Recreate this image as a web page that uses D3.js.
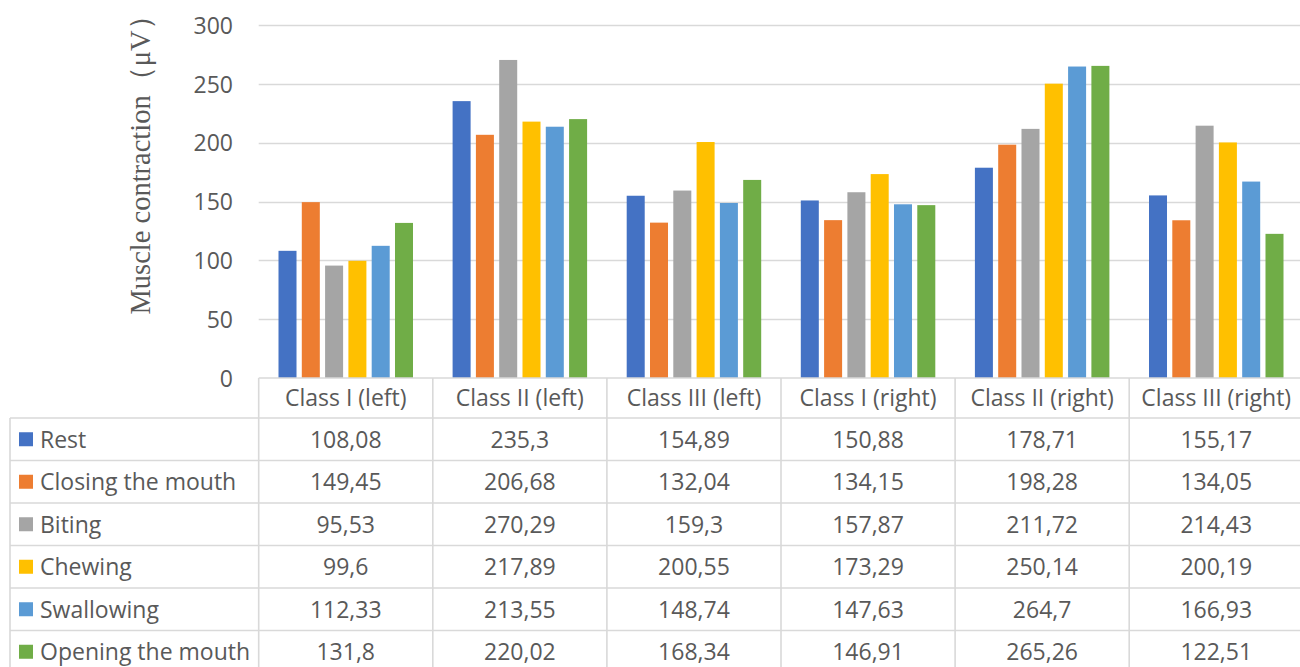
<!DOCTYPE html>
<html>
<head>
<meta charset="utf-8">
<script src="https://cdn.jsdelivr.net/npm/d3@7/dist/d3.min.js"></script>
<style>
  html, body { margin: 0; padding: 0; background: #fff; }
  svg { display: block; }
  text { font-family: "Open Sans", Lato, sans-serif; fill: #595959; }
</style>
</head>
<body>
<svg id="chart" width="1300" height="667"></svg>
<script>
// Patient groups along the x axis
const categories = ["Class I (left)", "Class II (left)", "Class III (left)",
                    "Class I (right)", "Class II (right)", "Class III (right)"];

// Activities (one bar series each)
const seriesNames = ["Rest", "Closing the mouth", "Biting", "Chewing", "Swallowing", "Opening the mouth"];
const seriesColors = ["#4472C4", "#ED7D31", "#A5A5A5", "#FFC000", "#5B9BD5", "#70AD47"];

// Mean muscle contraction (µV) per activity, in category order
const rest      = [108.08, 235.3, 154.89, 150.88, 178.71, 155.17];
const closing   = [149.45, 206.68, 132.04, 134.15, 198.28, 134.05];
const biting    = [95.53, 270.29, 159.3, 157.87, 211.72, 214.43];
const chewing   = [99.6, 217.89, 200.55, 173.29, 250.14, 200.19];
const swallowing= [112.33, 213.55, 148.74, 147.63, 264.7, 166.93];
const opening   = [131.8, 220.02, 168.34, 146.91, 265.26, 122.51];

const yTicks = [0, 50, 100, 150, 200, 250, 300];
const yTitle = "Muscle contraction（μV）";

const seriesValues = [rest, closing, biting, chewing, swallowing, opening];

const svg = d3.select("#chart");
const W = 1300, H = 667;
const FONT = "'Open Sans', Lato, sans-serif";
const FS = 23;

const plotLeft = 258.7, colW = 174.1;
const plotRight = plotLeft + categories.length * colW;
const tableLeft = 10;
const headerTop = 378, headerBottom = 418, rowH = 42.5;
const gridColor = "#D9D9D9";

const x = d3.scaleBand().domain(categories).range([plotLeft, plotRight]).padding(0);
const xInner = d3.scaleBand().domain(seriesNames)
  .range([19.8, colW - 19.8]).paddingInner(0.227).paddingOuter(0);
const y = d3.scaleLinear().domain([0, 300]).range([378, 25]);
const rowY = d3.scaleBand().domain(seriesNames)
  .range([headerBottom, headerBottom + seriesNames.length * rowH]);

// Horizontal gridlines
svg.append("g").selectAll("line").data(yTicks.filter(t => t > 0)).join("line")
  .attr("x1", plotLeft).attr("x2", W)
  .attr("y1", d => Math.round(y(d)) + 0.5).attr("y2", d => Math.round(y(d)) + 0.5)
  .attr("stroke", gridColor).attr("stroke-width", 1.6);

// Y axis tick labels
const yAxis = d3.axisLeft(y).tickValues(yTicks).tickSize(0).tickPadding(0);
const yg = svg.append("g").attr("transform", "translate(233,0)").call(yAxis);
yg.select(".domain").remove();
yg.selectAll("text").attr("font-size", FS).attr("fill", "#595959")
  .style("font-family", FONT).attr("dy", "0.36em");

// Y axis title
svg.append("text")
  .attr("transform", "translate(150,158) rotate(-90)")
  .attr("text-anchor", "middle")
  .style("font-family", "'Liberation Serif', 'Times New Roman', serif")
  .attr("font-size", 28.5)
  .attr("fill", "#595959")
  .text(yTitle);

// Bars
const groups = svg.append("g").selectAll("g").data(categories).join("g")
  .attr("transform", d => `translate(${x(d)},0)`);
groups.selectAll("rect")
  .data((c, ci) => seriesNames.map((s, si) => ({ s, v: seriesValues[si][ci], color: seriesColors[si] })))
  .join("rect")
  .attr("x", d => xInner(d.s))
  .attr("width", xInner.bandwidth())
  .attr("y", d => y(d.v))
  .attr("height", d => y(0) - y(d.v))
  .attr("fill", d => d.color);

// Data table grid
const tg = svg.append("g").attr("stroke", gridColor).attr("stroke-width", 1.6).attr("fill", "none");
const tableBottom = headerBottom + seriesNames.length * rowH;
tg.append("line").attr("x1", plotLeft).attr("x2", W).attr("y1", headerTop).attr("y2", headerTop);
[headerBottom, ...seriesNames.slice(1).map(s => rowY(s)), tableBottom].forEach(yy => {
  tg.append("line").attr("x1", tableLeft).attr("x2", W).attr("y1", yy).attr("y2", yy);
});
tg.append("line").attr("x1", tableLeft).attr("x2", tableLeft).attr("y1", headerBottom).attr("y2", tableBottom);
[...categories.map(c => x(c)), plotRight].forEach(xx => {
  tg.append("line").attr("x1", xx).attr("x2", xx).attr("y1", headerTop).attr("y2", tableBottom);
});

// Header labels
svg.append("g").selectAll("text").data(categories).join("text")
  .attr("x", d => x(d) + colW / 2).attr("y", (headerTop + headerBottom) / 2)
  .attr("dy", "0.36em").attr("text-anchor", "middle").attr("font-size", FS)
  .text(d => d);

// Row legend keys and names
const rows = svg.append("g").selectAll("g").data(seriesNames).join("g")
  .attr("transform", d => `translate(0,${rowY(d) + rowH / 2})`);
rows.append("rect").attr("x", 19).attr("y", -7).attr("width", 14).attr("height", 14)
  .attr("fill", (d, i) => seriesColors[i]);
rows.append("text").attr("x", 40).attr("dy", "0.36em").attr("font-size", FS).text(d => d);

// Cell values
const fmt = v => String(v).replace(".", ",");
rows.selectAll("text.val")
  .data((s, si) => categories.map((c, ci) => ({ c, v: seriesValues[si][ci] })))
  .join("text").attr("class", "val")
  .attr("x", d => x(d.c) + colW / 2).attr("dy", "0.36em")
  .attr("text-anchor", "middle").attr("font-size", FS)
  .text(d => fmt(d.v));
</script>
</body>
</html>
